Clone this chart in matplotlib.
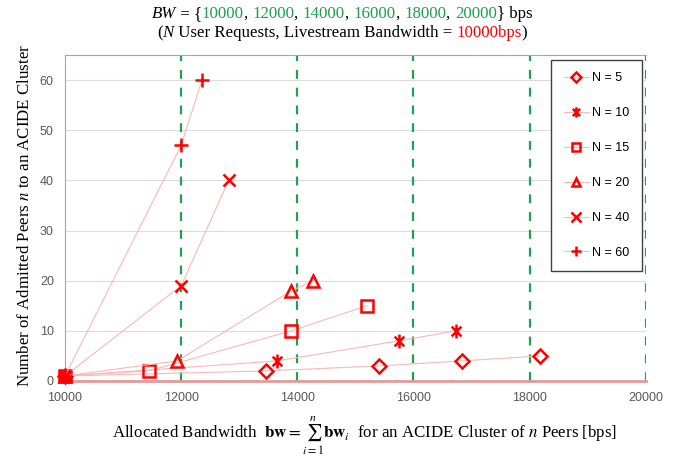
import matplotlib
matplotlib.use("Agg")
import matplotlib.pyplot as plt
from matplotlib.path import Path

plt.rcParams['mathtext.fontset'] = 'stix'

# ---- data ----
n5_x = [10000, 13460, 15400, 16830, 18180]
n5_y = [1, 2, 3, 4, 5]
n10_x = [10000, 13650, 15750, 16730]
n10_y = [1, 4, 8, 10]
n15_x = [10000, 11440, 13900, 15200]
n15_y = [1, 2, 10, 15]
n20_x = [10000, 11930, 13900, 14270]
n20_y = [1, 4, 18, 20]
n40_x = [10000, 12000, 12820]
n40_y = [1, 19, 40]
n60_x = [10000, 12000, 12360]
n60_y = [1, 47, 60]
labels = ["N = 5", "N = 10", "N = 15", "N = 20", "N = 40", "N = 60"]
bw_values = [12000, 14000, 16000, 18000, 20000]
title_bw = [10000, 12000, 14000, 16000, 18000, 20000]
x_ticks = [10000, 12000, 14000, 16000, 18000, 20000]
y_ticks = [0, 10, 20, 30, 40, 50, 60]

# asterisk marker: X plus vertical bar
ast = Path([(-0.7, -0.7), (0.7, 0.7), (-0.7, 0.7), (0.7, -0.7), (0, -1), (0, 1)],
           [Path.MOVETO, Path.LINETO, Path.MOVETO, Path.LINETO, Path.MOVETO, Path.LINETO])

series = [
    (n5_x, n5_y, 'D', 7),
    (n10_x, n10_y, ast, 10),
    (n15_x, n15_y, 's', 8),
    (n20_x, n20_y, '^', 8),
    (n40_x, n40_y, 'x', 9),
    (n60_x, n60_y, '+', 10),
]

fig = plt.figure(figsize=(6.84, 4.59), dpi=100)
ax = fig.add_axes([0.095, 0.170, 0.849, 0.710])
ax.set_xlim(10000, 20000)
ax.set_ylim(0, 65)

red = '#ff0000'
line_col = '#f7b9b9'
for (xs, ys, m, ms), lab in zip(series, labels):
    ax.plot(xs, ys, color=line_col, lw=0.8, marker=m, markersize=ms,
            markerfacecolor='none', markeredgecolor=red, markeredgewidth=1.8,
            label=lab, clip_on=False, zorder=3)

for v in bw_values:
    ax.axvline(v, color='#22a050', lw=1.6, dashes=(4, 4), zorder=2)

ax.set_xticks(x_ticks)
ax.set_yticks(y_ticks)
ax.tick_params(length=0, labelsize=9, labelcolor='#595959', pad=8)
for lab in ax.get_xticklabels() + ax.get_yticklabels():
    lab.set_fontfamily('Liberation Sans')
ax.grid(axis='y', color='#dcdcdc', lw=0.8)
ax.set_axisbelow(True)
for s in ['left', 'top']:
    ax.spines[s].set_color('#a6a6a6')
ax.spines['right'].set_visible(False)
ax.spines['bottom'].set_color('#e39a9a')
ax.spines['bottom'].set_linewidth(2)

leg = ax.legend(loc='upper right', bbox_to_anchor=(0.993, 0.985), fancybox=False,
                edgecolor='#404040', framealpha=1, labelspacing=1.83,
                handlelength=2.0, handletextpad=0.25, borderpad=1.0,
                borderaxespad=0, markerscale=0.75,
                prop={'family': 'Liberation Sans', 'size': 9})
leg.get_frame().set_linewidth(1.0)

fig.text(25 / 684, 1 - 215 / 459, "Number of Admitted Peers $n$ to an ACIDE Cluster",
         fontfamily='Liberation Serif', fontsize=12.2, rotation=90,
         ha='center', va='center')
fig.text(364.5 / 684, 1 - 438 / 459,
         r"Allocated Bandwidth  $\mathbf{bw} = \sum_{i=1}^{n}\mathbf{bw}_i$  for an ACIDE Cluster of $n$ Peers [bps]",
         fontfamily='Liberation Serif', fontsize=12.2, ha='center', va='baseline')

# ---- multi-colored title ----
renderer = fig.canvas.get_renderer()
W = fig.bbox.width

def measure(s, **kw):
    t1 = fig.text(0, 0, "|" + s + "|", **kw)
    t2 = fig.text(0, 0, "||", **kw)
    w = t1.get_window_extent(renderer).width - t2.get_window_extent(renderer).width
    t1.remove(); t2.remove()
    return w

def rich_line(y, pieces, size=12.2):
    widths = []
    for s, c, st in pieces:
        widths.append(measure(s, fontsize=size, fontfamily='Liberation Serif', fontstyle=st))
    x = (W - sum(widths)) / 2
    for (s, c, st), w in zip(pieces, widths):
        fig.text(x / W, y, s, fontsize=size, fontfamily='Liberation Serif',
                 fontstyle=st, color=c, va='center', ha='left')
        x += w

green = '#1e9e4e'
line1 = [("BW", 'black', 'italic'), (" = {", 'black', 'normal')]
for i, v in enumerate(title_bw):
    line1.append((str(v), green, 'normal'))
    if i < len(title_bw) - 1:
        line1.append((", ", 'black', 'normal'))
line1.append(("} bps", 'black', 'normal'))
rich_line(1 - 14 / 459, line1)

line2 = [("(", 'black', 'normal'), ("N", 'black', 'italic'),
         (" User Requests, Livestream Bandwidth = ", 'black', 'normal'),
         ("10000bps", red, 'normal'), (")", 'black', 'normal')]
rich_line(1 - 33 / 459, line2)

fig.savefig("out.png", dpi=100)
